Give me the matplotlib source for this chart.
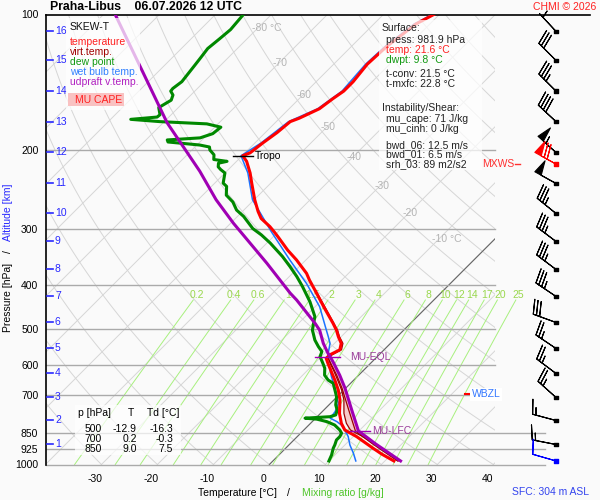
import numpy as np
import matplotlib
matplotlib.use('Agg')
import matplotlib.pyplot as plt
import matplotlib.transforms as mtransforms
from matplotlib.patches import Rectangle
from matplotlib.ticker import NullLocator, NullFormatter

plt.rcParams['font.family'] = ['Liberation Sans', 'DejaVu Sans']

# sounding Praha-Libus, 06.07.2026 12 UTC
temp_p = [982, 948, 920, 867, 838, 810, 770, 719, 683, 649, 622, 596, 581, 571, 556, 538, 520, 503, 485, 450,
          409, 389, 376, 351, 334, 312, 304, 296, 284, 274, 258, 237, 225, 212, 206, 203, 193, 183, 173, 170,
          162, 154, 148, 141, 129, 118, 105, 100]
temp_t = [21.6, 18.2, 15.6, 10.6, 7.3, 5.5, 3.4, 1.1, -1.0, -3.4, -5.5, -7.6, -8.8, -8.8, -7.9, -8.8, -10.5, -12.0, -13.9, -18.0,
          -23.1, -25.8, -27.5, -31.7, -35.0, -39.1, -40.7, -42.4, -45.4, -47.2, -49.9, -53.4, -55.5, -58.2, -59.9, -59.1, -58.6, -57.9, -57.5, -56.5,
          -54.6, -54.0, -53.4, -53.4, -54.0, -53.7, -52.5, -51.0]

dew_p = [982, 952, 920, 905, 882, 867, 852, 838, 817, 803, 793, 789, 783, 776, 757, 737, 707, 683, 660, 649,
         633, 611, 596, 576, 561, 547, 529, 511, 503, 469, 435, 402, 382, 363, 345, 322, 309, 299, 281, 272,
         261, 252, 241, 237, 225, 221, 218, 214, 212, 210, 205, 200, 197, 195, 192, 190, 188, 184, 178, 175,
         173, 171, 169, 167, 161, 155, 151, 148, 146, 141, 130, 125, 119, 113, 108, 100]
dew_t = [10.0, 9.4, 8.5, 8.2, 7.6, 7.6, 7.3, 6.4, 4.6, 2.6, 0.4, -1.9, 2.3, 3.0, 2.4, 1.2, -0.1, -1.6, -3.1, -4.6,
         -6.1, -7.3, -8.5, -10.2, -10.8, -12.3, -14.1, -15.6, -16.3, -18.3, -21.8, -25.9, -28.7, -31.7, -34.8, -39.4, -42.4, -45.1, -48.9, -51.3,
         -53.4, -55.8, -57.3, -58.5, -60.0, -61.4, -62.3, -62.9, -61.7, -64.4, -65.2, -66.8, -67.4, -69.5, -75.7, -76.2, -70.7, -69.2, -68.9, -72.0,
         -80.8, -86.4, -82.1, -82.0, -83.5, -82.6, -83.2, -84.3, -84.4, -84.0, -84.6, -84.9, -85.3, -84.9, -84.6, -85.0]

wb_p = [982, 944, 905, 867, 838, 817, 803, 789, 763, 731, 707, 672, 638, 611, 586, 571, 538, 520, 503, 446,
        396, 351, 304, 258, 225, 206, 193, 173, 162, 148, 129, 118, 105, 100]
wb_t = [14.8, 13.0, 10.9, 9.1, 7.3, 5.8, 4.4, 2.6, 2.3, 1.4, -0.1, -2.2, -4.6, -6.4, -8.4, -9.1, -10.8, -12.3, -13.8, -19.2,
        -25.7, -32.9, -41.2, -50.3, -55.9, -60.2, -58.9, -57.8, -54.9, -53.7, -54.3, -54.0, -52.8, -51.3]

vt_p = [982, 920, 867, 838, 810, 770, 719, 683, 649, 622, 596, 581, 571, 556, 538, 520, 503, 450, 409]
vt_t = [22.4, 16.9, 11.7, 8.3, 6.4, 4.2, 1.8, -0.4, -2.9, -5.0, -7.2, -8.4, -8.4, -7.6, -8.5, -10.3, -11.8, -17.8, -23.0]

parcel_p = [982, 900, 842, 757, 677, 633, 591, 576, 566, 538, 503, 486, 431, 416, 357, 291, 258, 223, 174, 135, 100]
parcel_t = [22.8, 15.3, 9.9, 5.0, -0.1, -3.4, -7.0, -8.4, -9.4, -12.0, -15.0, -17.0, -24.5, -26.9, -36.4, -49.5, -56.8, -64.8, -79.3, -92.4, -107.9]

lfc_p = 842
el_p = 576
tropo_p = 206
wbzl_p = 698

alt_km = [16, 15, 14, 13, 12, 11, 10, 9, 8, 7, 6, 5, 4, 3, 2, 1]
alt_p = [109, 126.5, 148, 173, 202.6, 237.4, 276.8, 319.4, 368.6, 423.2, 483.5, 552.3, 627.7, 709.7, 798.4, 902.7]

barb_p = [109, 126.5, 148, 173, 202.6, 215, 237.4, 276.8, 319.4, 368.6, 423.2, 483.5, 552.3, 627.7, 709.7, 798.4, 902.7, 982]
barb_dir = [317, 315, 315, 313, 312, 299, 299, 309, 307, 307, 304, 290, 304, 307, 312, 285, 281, 286]
barb_spd = [3, 30, 35, 40, 55, 70, 50, 35, 35, 35, 35, 30, 25, 25, 25, 15, 15, 10]
barb_col = ['black'] * 5 + ['red'] + ['black'] * 11 + ['blue']

p_ticks = [100, 200, 300, 400, 500, 600, 700, 850, 925, 1000]
t_ticks = [-30, -20, -10, 0, 10, 20, 30, 40]
iso_lab_t = [-80, -70, -60, -50, -40, -30, -20, -10]
iso_lab_p = [107, 128, 151, 178, 207, 240, 276, 316]
mix_w = [0.2, 0.4, 0.6, 1, 1.5, 2, 3, 4, 6, 8, 10, 12, 14, 17, 20, 25]
mix_lab = ['0.2', '0.4', '0.6', '1', '1.5', '2', '3', '4', '6', '8', '10', '12', '14', '17', '20', '25']

tab_p = [500, 700, 850]
tab_t = [-12.9, 0.2, 9.0]
tab_td = [-16.3, -0.3, 7.5]

surf_lines = [('Surface:', '#222222', 382), ('press: 981.9 hPa', '#222222', 386), ('temp: 21.6 °C', '#ff2020', 386),
              ('dwpt: 9.8 °C', '#119911', 386), ('t-conv: 21.5 °C', '#222222', 386), ('t-mxfc: 22.8 °C', '#222222', 386),
              ('Instability/Shear:', '#222222', 382), ('mu_cape: 71 J/kg', '#222222', 386), ('mu_cinh: 0 J/kg', '#222222', 386),
              ('bwd_06: 12.5 m/s', '#222222', 386), ('bwd_01: 6.5 m/s', '#222222', 386), ('srh_03: 89 m2/s2', '#222222', 386)]
surf_y = [27.7, 40, 50, 60, 74.3, 84.3, 108.3, 119, 129, 145, 154.5, 164.5]

K = 34.9  # skew: degC per unit of ln(1000/p)
FS = 7.5
BG = '#fafafa'


def skew(t, p):
    return np.asarray(t, float) + K * np.log(1000.0 / np.asarray(p, float))


fig = plt.figure(figsize=(6, 5), dpi=100, facecolor=BG)
ax = fig.add_axes([46 / 600, 35.5 / 500, 449 / 600, 450 / 500])
ax.set_facecolor(BG)
ax.set_yscale('log')
ax.set_ylim(1000, 100)
ax.set_xlim(-39.9, 40.3)
for s in ['top', 'right', 'bottom']:
    ax.spines[s].set_visible(False)
ax.spines['left'].set_linewidth(1.2)

# grid: isotherms and dry adiabats
pp = np.geomspace(1000, 100, 120)
for t0 in range(-130, 60, 10):
    ax.plot(skew([t0, t0], [1000, 100]), [1000, 100], color='#d6d6d6', lw=0.7, zorder=1)
for th in range(-40, 260, 10):
    tt = (th + 273.15) * (pp / 1000.0) ** 0.286 - 273.15
    ax.plot(skew(tt, pp), pp, color='#d6d6d6', lw=0.7, zorder=1)
ax.plot(skew([0, 0], [1000, 100]), [1000, 100], color='#666666', lw=0.8, zorder=2)

for t, p in zip(iso_lab_t, iso_lab_p):
    lab = f'{t} °C' if t in (-80, -10) else str(t)
    ax.text(skew(t, p) - 1.1, p, lab, ha='left', va='center', color='#b4b4b4', fontsize=FS, zorder=2)

# mixing ratio lines
pm = np.geomspace(1000, 431, 60)
for w, lab in zip(mix_w, mix_lab):
    e = w * pm / (622.0 + w)
    le = np.log(e / 6.112)
    td = 243.5 * le / (17.67 - le)
    ax.plot(skew(td, pm), pm, color='#a8f07e', lw=0.7, zorder=2, clip_on=False)
    e = w * 420 / (622.0 + w)
    le = np.log(e / 6.112)
    ax.text(skew(243.5 * le / (17.67 - le), 420), 420, lab, ha='center', va='center',
            color='#9ad84e', fontsize=FS, zorder=2, clip_on=False)

# pressure lines
ytr = ax.get_yaxis_transform()
for p in p_ticks[1:]:
    x1 = 1.111 if p >= 850 else 1.0
    ax.plot([0, x1], [p, p], color='#aaaaaa', lw=1, transform=ytr, clip_on=False, zorder=2)
ax.plot([0, 1.2116], [100, 100], color='black', lw=1.2, transform=ytr, clip_on=False, zorder=2)

# CAPE area
pf = np.geomspace(lfc_p, el_p, 80)
tv_i = np.interp(np.log(pf), np.log(vt_p[::-1]), vt_t[::-1])
pc_i = np.interp(np.log(pf), np.log(parcel_p[::-1]), parcel_t[::-1])
ax.fill_betweenx(pf, skew(tv_i, pf), skew(pc_i, pf), where=pc_i > tv_i, interpolate=True,
                 color='#f7caca', lw=0, zorder=3)

# profiles
sel = [i for i, p in enumerate(parcel_p) if p >= el_p]
shift = mtransforms.offset_copy(ax.transData, fig=fig, x=-3, y=0, units='dots')
ax.plot(skew([parcel_t[i] for i in sel], [parcel_p[i] for i in sel]), [parcel_p[i] for i in sel],
        color='#990000', lw=0.9, transform=shift, zorder=4)
ax.plot(skew(vt_t, vt_p), vt_p, color='#990000', lw=0.9, zorder=4)
ax.plot(skew(wb_t, wb_p), wb_p, color='#1a73ff', lw=1.1, zorder=5)
ax.plot(skew(dew_t, dew_p), dew_p, color='#008800', lw=2.2, zorder=6)
ax.plot(skew(temp_t, temp_p), temp_p, color='#ff0000', lw=2.2, zorder=7)
ax.plot(skew(parcel_t, parcel_p), parcel_p, color='#a000b4', lw=2.2, zorder=8)

# markers
ax.plot([0.4165, 0.461], [tropo_p, tropo_p], color='black', lw=1, transform=ytr, zorder=9)
ax.text(0.4655, tropo_p, 'Tropo', transform=ytr, ha='left', va='center', fontsize=FS, zorder=9)
ax.plot([0.599, 0.655], [el_p, el_p], color='#a000b4', lw=1, transform=ytr, zorder=9)
ax.text(0.677, el_p, 'MU-EQL', transform=ytr, ha='left', va='center', fontsize=FS, color='#9a3c9a', zorder=9)
ax.plot([0.677, 0.722], [lfc_p, lfc_p], color='#a000b4', lw=1, transform=ytr, zorder=9)
ax.text(0.726, lfc_p, 'MU-LFC', transform=ytr, ha='left', va='center', fontsize=FS, color='#9a3c9a', zorder=9)
ax.plot([0.933, 0.945], [wbzl_p, wbzl_p], color='red', lw=1.5, transform=ytr, zorder=9)
ax.text(0.948, wbzl_p, 'WBZL', transform=ytr, ha='left', va='center', fontsize=FS, color='#3377ff', zorder=9,
        clip_on=False, bbox=dict(facecolor='white', edgecolor='none', pad=1))

# altitude scale
for km, p in zip(alt_km, alt_p):
    ax.plot([0.0022, 0.0156], [p, p], color='#2828ff', lw=1.2, transform=ytr, zorder=9)
    ax.text(0.02, p, str(km), transform=ytr, ha='left', va='center', fontsize=FS, color='#2828ff', zorder=9)

# axes ticks
ax.set_yticks(p_ticks)
ax.set_yticklabels([str(p) for p in p_ticks])
ax.yaxis.set_minor_locator(NullLocator())
ax.yaxis.set_minor_formatter(NullFormatter())
ax.set_xticks(np.array(t_ticks) - 1.07)
ax.set_xticklabels([str(t) for t in t_ticks])
ax.tick_params(axis='both', length=0, labelsize=FS)
ax.tick_params(axis='y', pad=5.5)
ax.tick_params(axis='x', pad=6.5)

# wind barbs
wax = fig.add_axes([500 / 600, 35.5 / 500, 100 / 600, 450 / 500], zorder=15)
wax.set_yscale('log')
wax.set_ylim(1000, 100)
wax.set_xlim(500, 600)
wax.axis('off')
spd = np.array(barb_spd, float)
dr = np.deg2rad(barb_dir)
u = -spd * np.sin(dr)
v = -spd * np.cos(dr)
bx = np.full(len(barb_p), 556.0)
wax.barbs(bx, barb_p, u, v, length=5.9, pivot='tip', barbcolor=barb_col, flagcolor=barb_col,
          linewidth=0.8, clip_on=False, sizes=dict(spacing=0.14, height=0.6, width=0.3))
wax.scatter(bx, barb_p, s=7, marker='s', c=barb_col, clip_on=False, zorder=5)

# overlay: boxes and texts in pixel coordinates
ov = fig.add_axes([0, 0, 1, 1], zorder=20)
ov.set_xlim(0, 600)
ov.set_ylim(500, 0)
ov.axis('off')


def box(x0, y0, x1, y1, fc='white', alpha=0.72):
    ov.add_patch(Rectangle((x0, y0), x1 - x0, y1 - y0, facecolor=fc, edgecolor='none', alpha=alpha))


box(66, 18, 140, 110)
box(379, 20, 482, 170)
box(75, 405, 181, 455)
box(68, 93, 124, 106, fc='#f9c2c2', alpha=1)

ov.text(50.5, 7.5, 'Praha-Libus    06.07.2026 12 UTC', fontsize=8.8, fontweight='bold', va='center', ha='left')
ov.text(596, 7.5, 'CHMI © 2026', fontsize=FS, color='#ff2020', va='center', ha='right')

leg = [('SKEW-T', '#111111', 26.5), ('temperature', '#ff2020', 42.3), ('virt.temp.', '#a00000', 52.3),
       ('dew point', '#119911', 62), ('wet bulb temp.', '#3080ff', 71.7), ('udpraft v.temp.', '#b020c0', 81.7)]
for txt, c, y in leg:
    ov.text(70, y, txt, color=c, fontsize=FS, va='center', ha='left')
ov.text(75, 100, 'MU CAPE', color='#ff2020', fontsize=FS, va='center', ha='left')

for (txt, c, x), y in zip(surf_lines, surf_y):
    ov.text(x, y, txt, color=c, fontsize=FS, va='center', ha='left')

ov.text(482, 164, 'MXWS', color='#ff3030', fontsize=FS, va='center', ha='left')
ov.plot([515, 520], [164, 164], color='#ff3030', lw=1)

ov.text(78, 413.3, 'p [hPa]', fontsize=FS, va='center', ha='left')
ov.text(128, 413.3, 'T', fontsize=FS, va='center', ha='left')
ov.text(147, 413.3, 'Td [°C]', fontsize=FS, va='center', ha='left')
for p, t, td, y in zip(tab_p, tab_t, tab_td, [429, 438.7, 448.7]):
    ov.text(101.7, y, str(p), fontsize=FS, va='center', ha='right')
    ov.text(136.7, y, f'{t:.1f}', fontsize=FS, va='center', ha='right')
    ov.text(173.3, y, f'{td:.1f}', fontsize=FS, va='center', ha='right')

ov.text(8, 297.5, 'Pressure [hPa]', rotation=90, fontsize=FS, va='center', ha='center')
ov.text(8, 252, '/', rotation=90, fontsize=FS, va='center', ha='center')
ov.text(8, 212.5, 'Altitude [km]', rotation=90, fontsize=FS, va='center', ha='center', color='#2828ff')
ov.text(198, 493, 'Temperature [°C]', fontsize=FS, va='center', ha='left')
ov.text(287, 493, '/', fontsize=FS, va='center', ha='left')
ov.text(302, 493, 'Mixing ratio [g/kg]', fontsize=FS, va='center', ha='left', color='#4fc52a')
ov.text(512, 492, 'SFC: 304 m ASL', fontsize=FS, va='center', ha='left', color='#3344ee')

fig.savefig('out.png', dpi=100, facecolor=BG)
